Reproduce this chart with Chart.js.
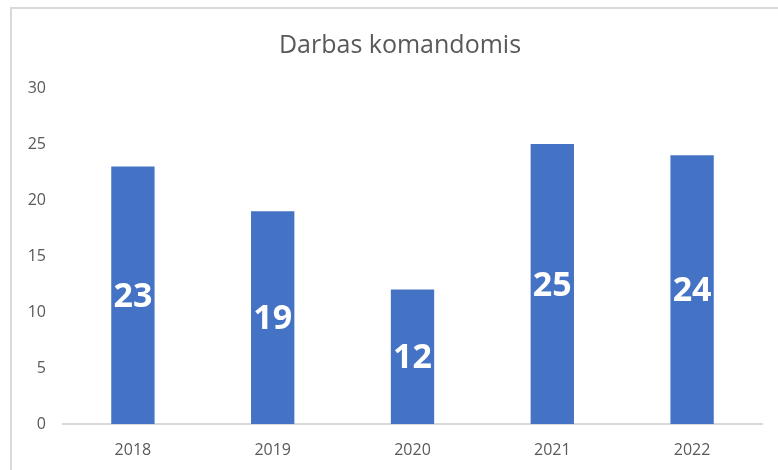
<!DOCTYPE html>
<html lang="lt">
<head>
    <meta charset="UTF-8">
    <title>Darbas komandomis</title>
    <style>
        html, body {
            margin: 0;
            padding: 0;
            background: #fff;
            overflow: hidden;
        }
        .frame {
            position: absolute;
            left: 10px;
            top: 7px;
            width: 800px;
            height: 500px;
            border: 2px solid #d9d9d9;
        }
        .wrap {
            position: absolute;
            left: 0;
            top: 0;
            width: 778px;
            height: 470px;
        }
    </style>
</head>
<body>
    <div class="frame"></div>
    <div class="wrap">
        <canvas id="chart" width="778" height="470"></canvas>
    </div>

    <script src="https://cdn.jsdelivr.net/npm/chart.js"></script>
    <script>
        const years = ['2018', '2019', '2020', '2021', '2022'];
        const values = [23, 19, 12, 25, 24];
        const yTicks = [0, 5, 10, 15, 20, 25, 30];

        const gray = '#595959';
        const font = "'Open Sans', 'DejaVu Sans', sans-serif";

        // skaičiai baltos spalvos stulpelių viduryje
        const barLabels = {
            id: 'barLabels',
            afterDatasetsDraw(chart) {
                const ctx = chart.ctx;
                const meta = chart.getDatasetMeta(0);
                ctx.save();
                ctx.fillStyle = '#ffffff';
                ctx.font = 'bold 34px ' + font;
                ctx.textAlign = 'center';
                ctx.textBaseline = 'middle';
                meta.data.forEach((bar, i) => {
                    const mid = (bar.y + bar.base) / 2;
                    ctx.fillText(String(values[i]), bar.x, mid + 2);
                });
                ctx.restore();
            }
        };

        // pavadinimas centruojamas visame rėmelyje, ne tik grafiko srityje
        const titleShift = {
            id: 'titleShift',
            afterLayout(chart) {
                if (chart.titleBlock) {
                    chart.titleBlock.left = 38;
                    chart.titleBlock.right = 762;
                }
            }
        };

        new Chart(document.getElementById('chart'), {
            type: 'bar',
            data: {
                labels: years,
                datasets: [{
                    data: values,
                    backgroundColor: '#4472c4',
                    borderWidth: 0,
                    barPercentage: 0.31,
                    categoryPercentage: 1.0
                }]
            },
            options: {
                responsive: false,
                animation: false,
                layout: { padding: { left: 0, right: 16, top: 0, bottom: 0 } },
                plugins: {
                    legend: { display: false },
                    tooltip: { enabled: false },
                    title: {
                        display: true,
                        text: 'Darbas komandomis',
                        color: gray,
                        font: { family: font, size: 25, weight: 'normal', lineHeight: 1.2 },
                        padding: { top: 31, bottom: 27 }
                    }
                },
                scales: {
                    x: {
                        grid: { display: false, drawTicks: false },
                        border: { display: true, color: '#d9d9d9', width: 2 },
                        ticks: {
                            color: gray,
                            font: { family: font, size: 16 },
                            padding: 17
                        },
                        afterFit(scale) { scale.height = 46; }
                    },
                    y: {
                        min: 0,
                        max: 30,
                        grid: { display: false, drawTicks: false },
                        border: { display: false },
                        afterBuildTicks(scale) {
                            scale.ticks = yTicks.map(v => ({ value: v }));
                        },
                        ticks: {
                            color: gray,
                            font: { family: font, size: 16 },
                            padding: 17
                        },
                        afterFit(scale) { scale.width = 63; }
                    }
                }
            },
            plugins: [barLabels, titleShift]
        });
    </script>
</body>
</html>
